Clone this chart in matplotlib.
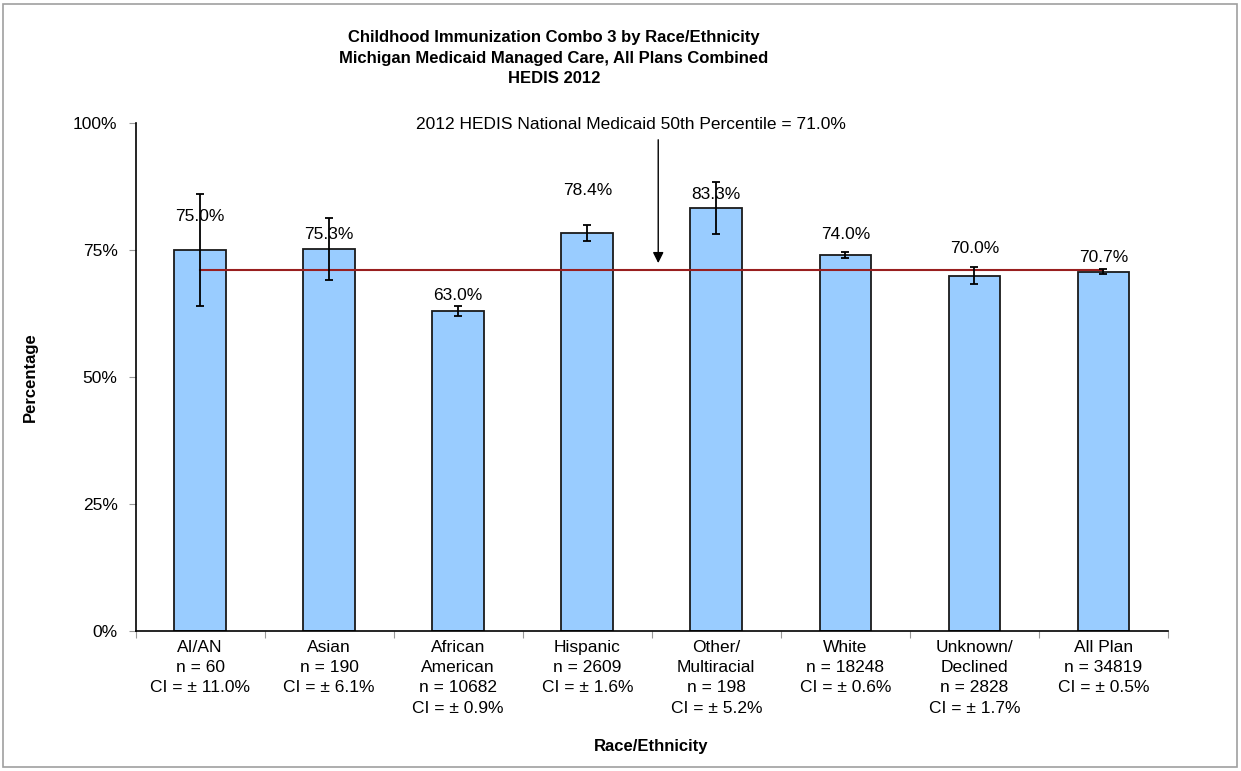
import matplotlib
matplotlib.use("Agg")
import matplotlib.pyplot as plt
from matplotlib.patches import Rectangle

categories = ["AI/AN", "Asian", "African\nAmerican", "Hispanic", "Other/\nMultiracial",
              "White", "Unknown/\nDeclined", "All Plan"]
counts = [60, 190, 10682, 2609, 198, 18248, 2828, 34819]
rates = [75.0, 75.3, 63.0, 78.4, 83.3, 74.0, 70.0, 70.7]
ci = [11.0, 6.1, 0.9, 1.6, 5.2, 0.6, 1.7, 0.5]
benchmark = 71.0
title = ("Childhood Immunization Combo 3 by Race/Ethnicity\n"
         "Michigan Medicaid Managed Care, All Plans Combined\nHEDIS 2012")

# where the value labels sit above each bar (pixels), as in the original
label_offsets_px = [34, 14, 16, 42, 14, 21, 27, 14]

plt.rcParams["font.family"] = ["Liberation Sans", "DejaVu Sans"]

fig = plt.figure(figsize=(12.41, 7.71), dpi=100)
ax = fig.add_axes([0.1093, 0.182, 0.8318, 0.6581])

x = list(range(len(categories)))
ax.bar(x, rates, width=0.4, color="#99CCFF", edgecolor="#1a1a1a", linewidth=1.3, zorder=2)
ax.errorbar(x, rates, yerr=ci, fmt="none", ecolor="black", elinewidth=1.3,
            capsize=3, capthick=1.3, zorder=4)
ax.plot([x[0], x[-1]], [benchmark, benchmark], color="#991f1f", lw=1.5, zorder=3)

for xi, r, off in zip(x, rates, label_offsets_px):
    ax.annotate(f"{r:.1f}%", (xi, r), xytext=(0, off * 0.72), textcoords="offset points",
                ha="center", va="center", fontsize=12.5, zorder=5)

ax.annotate("", xy=(3.55, 71.9), xytext=(3.55, 97.3),
            arrowprops=dict(arrowstyle="-|>", color="black", lw=1, mutation_scale=16))
ax.text(-0.5 + 0.2715 * 8, 99.8, f"2012 HEDIS National Medicaid 50th Percentile = {benchmark:.1f}%",
        ha="left", va="center", fontsize=12.5)

ax.set_xlim(-0.5, 7.5)
ax.set_ylim(0, 100)
ax.set_yticks([0, 25, 50, 75, 100])
ax.set_yticklabels(["0%", "25%", "50%", "75%", "100%"], fontsize=12.5)
ax.set_xticks([-0.5] + [i + 0.5 for i in x])
ax.set_xticklabels([])
ax.set_xticks(x, minor=True)
ax.set_xticklabels([f"{c}\nn = {n}\nCI = \u00b1 {e:.1f}%" for c, n, e in zip(categories, counts, ci)],
                   minor=True, fontsize=12.5, linespacing=1.42, va="top")
ax.tick_params(axis="x", which="minor", length=0, pad=7)
ax.tick_params(axis="x", which="major", length=5, color="#999999")
ax.tick_params(axis="y", length=5, color="#999999", pad=8)

for s in ["top", "right"]:
    ax.spines[s].set_visible(False)
for s in ["left", "bottom"]:
    ax.spines[s].set_linewidth(1.2)

fig.text(554 / 1241, 1 - 58 / 771, title, ha="center", va="center", fontsize=12,
         fontweight="bold", linespacing=1.45)
fig.text(30 / 1241, 1 - 377 / 771, "Percentage", rotation=90, ha="center", va="center",
         fontsize=12, fontweight="bold")
fig.text(651 / 1241, 1 - 746 / 771, "Race/Ethnicity", ha="center", va="center",
         fontsize=12, fontweight="bold")

fig.patches.append(Rectangle((3 / 1241, 4 / 771), 1234 / 1241, 763 / 771,
                             transform=fig.transFigure, fill=False, edgecolor="#a0a0a0", lw=1.2))

fig.savefig("out.png", dpi=100)
